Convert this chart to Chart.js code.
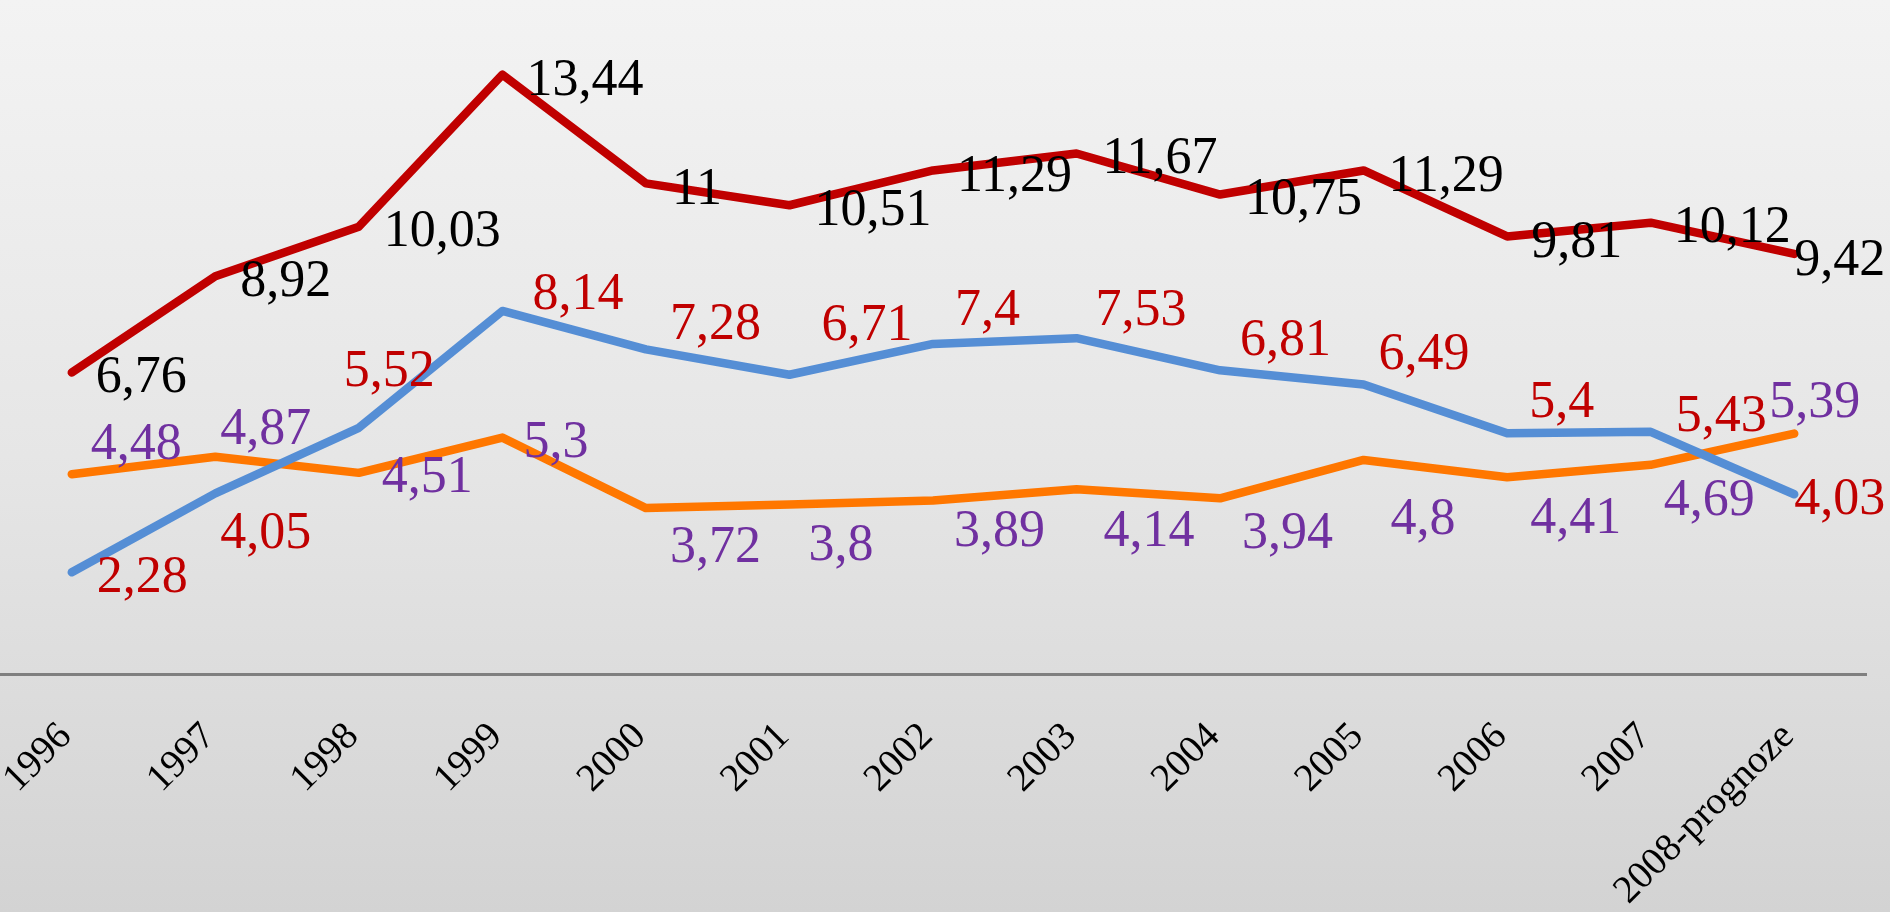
<!DOCTYPE html>
<html>
<head>
<meta charset="utf-8">
<script src="https://cdn.jsdelivr.net/npm/chart.js@4.4.1/dist/chart.umd.min.js"></script>
<style>
  html, body { margin: 0; padding: 0; width: 1890px; height: 912px; overflow: hidden; }
  body { background: linear-gradient(to bottom, #f3f3f3 0%, #e6e6e6 50%, #d3d3d3 100%); }
  canvas { display: block; }
</style>
</head>
<body>
<canvas id="chart" width="1890" height="912"></canvas>
<script>
// data
const years = ['1996', '1997', '1998', '1999', '2000', '2001', '2002', '2003', '2004', '2005', '2006', '2007', '2008-prognoze'];
const redValues = [6.76, 8.92, 10.03, 13.44, 11, 10.51, 11.29, 11.67, 10.75, 11.29, 9.81, 10.12, 9.42];
const blueValues = [2.28, 4.05, 5.52, 8.14, 7.28, 6.71, 7.4, 7.53, 6.81, 6.49, 5.4, 5.43, 4.03];
const orangeValues = [4.48, 4.87, 4.51, 5.3, 3.72, 3.8, 3.89, 4.14, 3.94, 4.8, 4.41, 4.69, 5.39];

// label nudges (dx to text left edge, dy to text centre), as placed in the original
const redLabelOffsets = [[24, 2], [25, 2], [25, 2], [24, 3], [26, 3], [25, 2], [24, 3], [26, 2], [25, 2], [25, 3], [24, 3], [23, 2], [0, 4]];
const blueLabelOffsets = [[25, 2], [5, 37], [-15, -59], [30, -19], [24, -28], [32, -52], [22, -36], [19, -31], [20, -33], [15, -33], [22, -34], [25, -18], [0, 2]];
const orangeLabelOffsets = [[19, -33], [5, -30], [23, 2], [21, 2], [24, 36], [19, 38], [21, 28], [27, 39], [22, 32], [27, 57], [23, 38], [13, 33], [-25, -34]];

const labelFont = '52px "Liberation Serif", "Times New Roman", serif';

/** --------------- value labels ---------------- */
const valueLabels = {
    id: 'valueLabels',
    afterDatasetsDraw(chart) {
        const ctx = chart.ctx;
        ctx.save();
        ctx.font = labelFont;
        ctx.textAlign = 'left';
        ctx.textBaseline = 'alphabetic';
        chart.data.datasets.forEach((ds, i) => {
            const meta = chart.getDatasetMeta(i);
            meta.data.forEach((pt, j) => {
                const off = ds.labelOffsets[j];
                const text = String(ds.data[j]).replace('.', ',');
                ctx.fillStyle = ds.labelColor;
                ctx.fillText(text, pt.x + off[0], pt.y + off[1] + 17.5);
            });
        });
        ctx.restore();
    }
};

const ctx = document.getElementById('chart');
new Chart(ctx.getContext('2d'), {
    type: 'line',
    data: {
        labels: years,
        datasets: [
            {
                data: redValues,
                borderColor: '#c00000',
                labelColor: '#000000',
                labelOffsets: redLabelOffsets,
            },
            {
                data: blueValues,
                borderColor: '#558ed5',
                labelColor: '#c00000',
                labelOffsets: blueLabelOffsets,
            },
            {
                data: orangeValues,
                borderColor: '#ff7700',
                labelColor: '#7030a0',
                labelOffsets: orangeLabelOffsets,
            },
        ],
    },
    options: {
        responsive: false,
        animation: false,
        devicePixelRatio: 1,
        layout: { padding: { top: 5, right: 24, left: 0, bottom: 0 } },
        elements: {
            line: { borderWidth: 8.5, tension: 0, borderJoinStyle: 'round', borderCapStyle: 'round' },
            point: { radius: 0, hoverRadius: 0 },
        },
        scales: {
            x: {
                offset: true,
                grid: { display: false, drawTicks: false },
                border: { display: true, color: '#7f7f7f', width: 3 },
                ticks: {
                    autoSkip: false,
                    minRotation: 45,
                    maxRotation: 45,
                    padding: 40,
                    labelOffset: -6,
                    color: '#000000',
                    font: { family: '"Liberation Serif", "Times New Roman", serif', size: 39 },
                },
                afterFit: (scale) => {
                    scale.height = 238;
                    scale.paddingLeft = 0;
                    scale.paddingRight = 0;
                },
            },
            y: {
                display: false,
                min: 0,
                max: 15,
            },
        },
        plugins: {
            legend: { display: false },
            tooltip: { enabled: false },
        },
    },
    plugins: [valueLabels],
});
</script>
</body>
</html>
